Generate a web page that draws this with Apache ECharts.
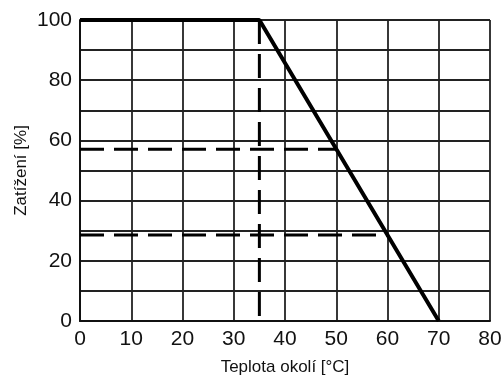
<!DOCTYPE html>
<html>
<head>
<meta charset="utf-8">
<script src="https://cdn.jsdelivr.net/npm/echarts@6/dist/echarts.min.js"></script>
<style>
  html, body { margin: 0; padding: 0; background: #fff; }
  #chart { width: 502px; height: 376px; }
</style>
</head>
<body>
<div id="chart"></div>
<script>
// derating curve: temperature [°C] -> load [%]
const curveTemp = [0, 35, 70];
const curveLoad = [100, 100, 0];
// dashed guide lines
const guideVertical = [[35, 100], [35, 0]];
const guideHigh = [[0, 57.1], [50, 57.1]];
const guideLow = [[0, 28.6], [60, 28.6]];

const chart = echarts.init(document.getElementById("chart"));
const dashStyle = { color: "#000", width: 3, type: [24, 10] };

const option = {
  animation: false,
  grid: { left: 80, right: 12, top: 20, bottom: 55, outerBoundsMode: "none" },
  xAxis: {
    type: "value",
    min: 0, max: 80, interval: 10,
    name: "Teplota okolí [°C]",
    nameLocation: "middle",
    nameGap: 38,
    nameTextStyle: { fontFamily: "Liberation Sans", fontSize: 17, color: "#111" },
    axisLine: { show: true, lineStyle: { color: "#111", width: 2 } },
    axisTick: { show: false },
    axisLabel: { fontFamily: "Liberation Sans", fontSize: 21, color: "#111", margin: 8 },
    splitLine: { show: true, lineStyle: { color: "#222", width: 1.8 } }
  },
  yAxis: {
    type: "value",
    min: 0, max: 100, interval: 10,
    name: "Zatížení [%]",
    nameLocation: "middle",
    nameGap: 50,
    nameMoveOverlap: false,
    nameTextStyle: { fontFamily: "Liberation Sans", fontSize: 17, color: "#111" },
    axisLine: { show: true, lineStyle: { color: "#111", width: 2 } },
    axisTick: { show: false },
    axisLabel: {
      fontFamily: "Liberation Sans", fontSize: 21, color: "#111", margin: 8,
      formatter: v => (v % 20 === 0 ? v : "")
    },
    splitLine: { show: true, lineStyle: { color: "#222", width: 1.8 } }
  },
  series: [
    {
      type: "line",
      data: guideVertical,
      symbol: "none",
      lineStyle: dashStyle
    },
    {
      type: "line",
      data: guideHigh,
      symbol: "none",
      lineStyle: dashStyle
    },
    {
      type: "line",
      data: guideLow,
      symbol: "none",
      lineStyle: dashStyle
    },
    {
      type: "line",
      data: curveTemp.map((t, i) => [t, curveLoad[i]]),
      symbol: "none",
      lineStyle: { color: "#000", width: 4 }
    }
  ]
};
chart.setOption(option);
window.addEventListener("resize", chart.resize);
</script>
</body>
</html>
